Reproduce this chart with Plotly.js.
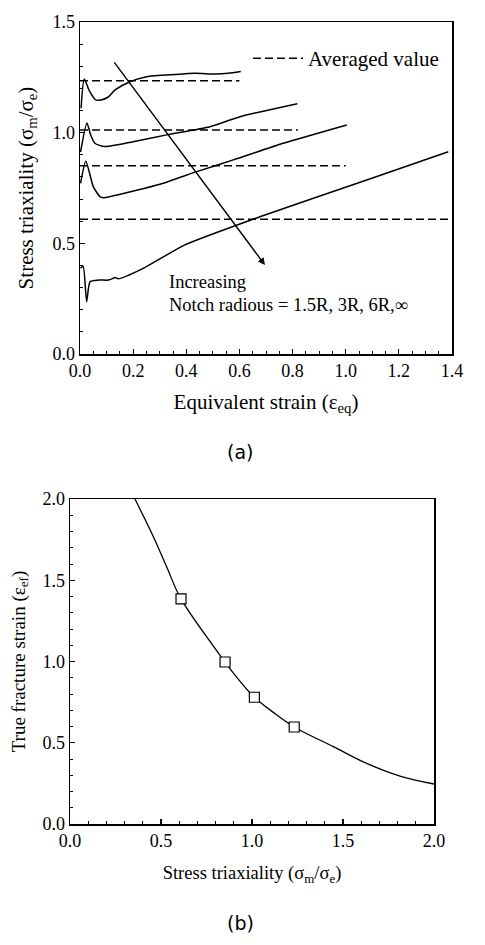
<!DOCTYPE html>
<html>
<head>
<meta charset="utf-8">
<script src="https://cdn.plot.ly/plotly-3.0.1.min.js"></script>
<style>html,body{margin:0;padding:0;background:#fff;}#chart{width:485px;height:945px;}</style>
</head>
<body>
<div id="chart"></div>
<script>
// ---- (a) Stress triaxiality vs equivalent strain ----
const strain_15R = [0.004, 0.016, 0.035, 0.059, 0.079, 0.105, 0.132, 0.188, 0.251, 0.358, 0.433, 0.508, 0.558, 0.605];
const triax_15R  = [1.110, 1.243, 1.190, 1.148, 1.148, 1.160, 1.193, 1.230, 1.253, 1.263, 1.268, 1.265, 1.268, 1.276];

const strain_3R = [0.002, 0.026, 0.040, 0.056, 0.094, 0.200, 0.326, 0.489, 0.602, 0.818];
const triax_3R  = [0.912, 1.044, 0.990, 0.952, 0.937, 0.959, 0.990, 1.027, 1.072, 1.131];

const strain_6R = [0.002, 0.022, 0.050, 0.075, 0.088, 0.113, 0.301, 0.439, 0.577, 0.765, 1.004];
const triax_6R  = [0.771, 0.871, 0.756, 0.711, 0.706, 0.711, 0.767, 0.824, 0.877, 0.952, 1.035];

const strain_inf = [0.002, 0.012, 0.025, 0.038, 0.070, 0.107, 0.125, 0.132, 0.144, 0.238, 0.395, 0.677, 1.079, 1.386];
const triax_inf  = [0.387, 0.396, 0.236, 0.327, 0.334, 0.334, 0.342, 0.346, 0.340, 0.387, 0.493, 0.620, 0.786, 0.914];

const avg_x_end  = [0.60, 0.82, 1.00, 1.40];
const avg_values = [1.235, 1.012, 0.851, 0.609];

const arrow_from = [0.125, 1.324];
const arrow_to   = [0.696, 0.402];

// ---- (b) True fracture strain vs stress triaxiality ----
const triax_points    = [0.61, 0.852, 1.013, 1.232];
const fracture_points = [1.385, 0.997, 0.78, 0.597];
const fit_x = [0.357, 0.458, 0.531, 0.61, 0.852, 0.897, 1.013, 1.117, 1.232, 1.447, 1.63, 1.813, 2.0];
const fit_y = [2.0, 1.768, 1.583, 1.385, 0.997, 0.93, 0.78, 0.687, 0.597, 0.476, 0.373, 0.295, 0.246];

const SERIF = 'Liberation Serif, Times New Roman, serif';
const solid = {color: '#000', width: 1.5};
const dashed = {color: '#000', width: 1.5, dash: '8px,4px'};

const traces = [];
[[strain_15R, triax_15R], [strain_3R, triax_3R], [strain_6R, triax_6R], [strain_inf, triax_inf]].forEach(([x, y]) => {
  traces.push({x: x, y: y, type: 'scatter', mode: 'lines', line: Object.assign({shape: 'spline', smoothing: 0.6}, solid),
               xaxis: 'x', yaxis: 'y', showlegend: false, hoverinfo: 'skip'});
});
avg_values.forEach((v, i) => {
  traces.push({x: [0, avg_x_end[i]], y: [v, v], type: 'scatter', mode: 'lines', line: dashed,
               xaxis: 'x', yaxis: 'y', name: 'Averaged value', showlegend: i === 0, hoverinfo: 'skip'});
});
traces.push({x: fit_x, y: fit_y, type: 'scatter', mode: 'lines', line: {color: '#000', width: 1.3, shape: 'spline', smoothing: 1},
             xaxis: 'x2', yaxis: 'y2', showlegend: false, hoverinfo: 'skip'});
traces.push({x: triax_points, y: fracture_points, type: 'scatter', mode: 'markers',
             marker: {symbol: 'square', size: 10, color: '#fff', line: {color: '#000', width: 1.2}},
             xaxis: 'x2', yaxis: 'y2', showlegend: false, hoverinfo: 'skip', cliponaxis: false});

function axis(extra) {
  return Object.assign({
    showgrid: false, zeroline: false, showline: true, linecolor: '#000', linewidth: 1.5, mirror: true,
    ticks: 'inside', ticklen: 5, tickwidth: 1.2, tickcolor: '#000', tickformat: '.1f',
    tickfont: {family: SERIF, size: 18, color: '#000'}
  }, extra);
}

const W = 485, H = 945;
const layout = {
  width: W, height: H, margin: {l: 0, r: 0, t: 0, b: 0},
  paper_bgcolor: '#fff', plot_bgcolor: '#fff',
  font: {family: SERIF, size: 18, color: '#000'},
  xaxis: axis({domain: [80 / W, 452 / W], range: [0, 1.4], dtick: 0.2, anchor: 'y',
               minor: {dtick: 0.05, ticklen: 3, ticks: 'inside', tickcolor: '#000', tickwidth: 1},
               title: {text: 'Equivalent strain (ε<sub>eq</sub>)', font: {family: SERIF, size: 21, color: '#000'}, standoff: 14}}),
  yaxis: axis({domain: [1 - 354 / H, 1 - 22 / H], range: [0, 1.5], dtick: 0.5, anchor: 'x',
               minor: {dtick: 0.1, ticklen: 3, ticks: 'inside', tickcolor: '#000', tickwidth: 1},
               title: {text: 'Stress triaxiality (σ<sub>m</sub>/σ<sub>e</sub>)', font: {family: SERIF, size: 21, color: '#000'}, standoff: 13}}),
  xaxis2: axis({domain: [70 / W, 434 / W], range: [0, 2], dtick: 0.5, anchor: 'y2',
               tickfont: {family: SERIF, size: 18, color: '#000'},
               minor: {dtick: 0.1, ticklen: 3, ticks: 'inside', tickcolor: '#000', tickwidth: 1},
               title: {text: 'Stress triaxiality (σ<sub>m</sub>/σ<sub>e</sub>)', font: {family: SERIF, size: 18.5, color: '#000'}, standoff: 16}}),
  yaxis2: axis({domain: [1 - 824 / H, 1 - 499 / H], range: [0, 2], dtick: 0.5, anchor: 'x2',
               tickfont: {family: SERIF, size: 18, color: '#000'},
               minor: {dtick: 0.1, ticklen: 3, ticks: 'inside', tickcolor: '#000', tickwidth: 1},
               title: {text: 'True fracture strain (ε<sub>ef</sub>)', font: {family: SERIF, size: 19, color: '#000'}, standoff: 12}}),
  showlegend: true,
  legend: {x: 248 / W, y: 1 - 38 / H, xanchor: 'left', yanchor: 'top', bgcolor: 'rgba(0,0,0,0)',
           font: {family: SERIF, size: 21, color: '#000'}, itemwidth: 50},
  annotations: [
    {xref: 'x', yref: 'y', axref: 'x', ayref: 'y', x: arrow_to[0], y: arrow_to[1], ax: arrow_from[0], ay: arrow_from[1],
     showarrow: true, arrowhead: 2, arrowsize: 1, arrowwidth: 1.4, arrowcolor: '#000', text: ''},
    {xref: 'x', yref: 'y', x: 0.326, y: 0.327, xanchor: 'left', yanchor: 'middle', showarrow: false,
     text: 'Increasing', font: {family: SERIF, size: 18.5, color: '#000'}},
    {xref: 'x', yref: 'y', x: 0.326, y: 0.221, xanchor: 'left', yanchor: 'middle', showarrow: false,
     text: 'Notch radious = 1.5R, 3R, 6R,∞', font: {family: SERIF, size: 18.5, color: '#000'}},
    {xref: 'paper', yref: 'paper', x: 240 / W, y: 1 - 452 / H, xanchor: 'center', yanchor: 'middle', showarrow: false,
     text: '(a)', font: {family: 'DejaVu Sans, sans-serif', size: 19, color: '#000'}},
    {xref: 'paper', yref: 'paper', x: 240 / W, y: 1 - 923 / H, xanchor: 'center', yanchor: 'middle', showarrow: false,
     text: '(b)', font: {family: 'DejaVu Sans, sans-serif', size: 19, color: '#000'}}
  ]
};

Plotly.newPlot('chart', traces, layout, {staticPlot: true, displayModeBar: false});
</script>
</body>
</html>
